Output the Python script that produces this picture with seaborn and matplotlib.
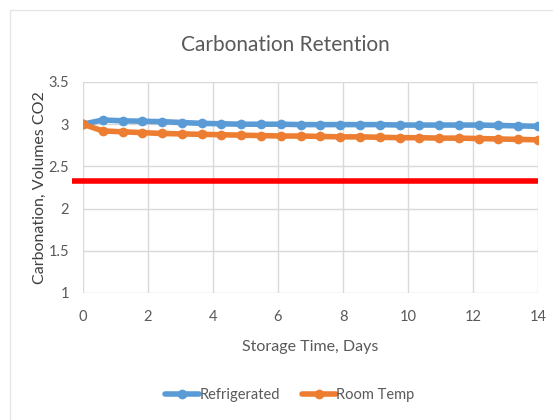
import matplotlib
matplotlib.use("Agg")
import matplotlib.pyplot as plt
import matplotlib.patches as patches
import seaborn as sns
import pandas as pd

# storage time (days) for each measurement
days = [0.0, 0.61, 1.22, 1.83, 2.43, 3.04, 3.65, 4.26, 4.87, 5.48, 6.09, 6.70,
        7.30, 7.91, 8.52, 9.13, 9.74, 10.35, 10.96, 11.57, 12.17, 12.78, 13.39, 14.0]

# carbonation, volumes CO2
refrigerated = [3.00, 3.05, 3.04, 3.035, 3.03, 3.02, 3.01, 3.005, 3.00, 3.00, 3.00, 2.995,
                2.995, 2.995, 2.995, 2.995, 2.99, 2.99, 2.99, 2.99, 2.99, 2.985, 2.98, 2.975]
room_temp = [3.00, 2.92, 2.91, 2.90, 2.89, 2.885, 2.88, 2.875, 2.87, 2.865, 2.86, 2.86,
             2.855, 2.85, 2.85, 2.845, 2.84, 2.84, 2.835, 2.835, 2.83, 2.825, 2.82, 2.815]

# red reference line
limit_value = 2.33

df = pd.DataFrame({
    "days": days * 2,
    "value": refrigerated + room_temp,
    "series": ["Refrigerated"] * len(days) + ["Room Temp"] * len(days),
})

sns.set_theme(style="white")
plt.rcParams['font.family'] = ['Lato', 'DejaVu Sans']

grey_text = "#595959"
grid_col = "#d9d9d9"

fig = plt.figure(figsize=(5.53, 4.2), dpi=100)
ax = fig.add_axes([83 / 553, 1 - 293 / 420, (538 - 83) / 553, (293 - 82) / 420])

# chart frame (left and top edge only visible)
fig.patches.append(patches.Rectangle((10 / 553, -0.05), 1.2, 1 - 10 / 420 + 0.05,
                                     transform=fig.transFigure, fill=False,
                                     edgecolor="#e6e6e6", linewidth=1))

sns.lineplot(data=df, x="days", y="value", hue="series",
             palette=["#5b9bd5", "#ed7d31"], marker="o", markersize=7,
             markeredgewidth=0, linewidth=4, ax=ax, legend=False)

ax.plot([-0.35, 14.0], [limit_value, limit_value], color="#ff0000", linewidth=4,
        solid_capstyle="butt", clip_on=False, zorder=5)

ax.set_xlim(0, 14)
ax.set_ylim(1, 3.5)
ax.set_xticks([0, 2, 4, 6, 8, 10, 12, 14])
ax.set_yticks([1, 1.5, 2, 2.5, 3, 3.5])
ax.set_yticklabels(["1", "1.5", "2", "2.5", "3", "3.5"])
ax.grid(True, color=grid_col, linewidth=1)
ax.set_axisbelow(True)
for s in ax.spines.values():
    s.set_visible(False)
ax.tick_params(axis="both", length=0, colors=grey_text, labelsize=10.5)
ax.tick_params(axis="x", pad=12)
ax.tick_params(axis="y", pad=10)

ax.set_xlabel("Storage Time, Days", color=grey_text, fontsize=11.5, labelpad=12)
ax.set_ylabel("Carbonation, Volumes CO2", color="#404040", fontsize=11.5, labelpad=1)
fig.text(285 / 553, 1 - 45 / 420, "Carbonation Retention", ha="center", va="center",
         color=grey_text, fontsize=15)

handles = [plt.Line2D([], [], color="#5b9bd5", linewidth=4, marker="o", markersize=7,
                      markeredgewidth=0),
           plt.Line2D([], [], color="#ed7d31", linewidth=4, marker="o", markersize=7,
                      markeredgewidth=0)]
fig.legend(handles, ["Refrigerated", "Room Temp"], loc="center",
           bbox_to_anchor=(290 / 553, 1 - 395 / 420), ncol=2, frameon=False,
           handlelength=2.3, handletextpad=0.05, columnspacing=1.5,
           labelcolor=grey_text, fontsize=10.5)

fig.savefig("out.png", dpi=100)
